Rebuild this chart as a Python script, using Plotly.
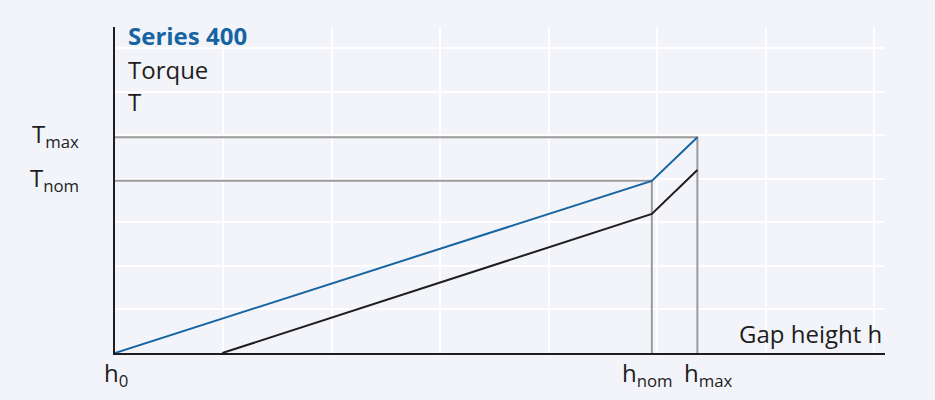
import plotly.graph_objects as go

# ---- data (in grid units) ----
h_labels = ["h<sub>0</sub>", "h<sub>nom</sub>", "h<sub>max</sub>"]
h_values = [0.0, 4.95, 5.37]
T_labels = ["T<sub>max</sub>", "T<sub>nom</sub>"]
T_values = [4.95, 3.95]

blue_x = [0.0, 4.95, 5.37]
blue_y = [0.0, 3.95, 4.95]
black_x = [0.99, 4.95, 5.37]
black_y = [0.0, 3.19, 4.20]

title_text = "Series 400"
ylabel_lines = ["Torque", "T"]
xlabel_text = "Gap height h"

BG = "#f2f4f9"
BLUE = "#1764a3"
DARK = "#1e1e1e"
GRAY = "#9b9b9b"
FONT = "Open Sans"
FS = 24

fig = go.Figure()

hnom, hmax = h_values[1], h_values[2]
tmax, tnom = T_values[0], T_values[1]
fig.add_trace(go.Scatter(x=[0, hmax, hmax], y=[tmax, tmax, 0], mode="lines",
                         line=dict(color=GRAY, width=2), hoverinfo="skip", showlegend=False))
fig.add_trace(go.Scatter(x=[0, hnom, hnom], y=[tnom, tnom, 0], mode="lines",
                         line=dict(color=GRAY, width=2), hoverinfo="skip", showlegend=False))
fig.add_trace(go.Scatter(x=black_x, y=black_y, mode="lines",
                         line=dict(color=DARK, width=2), showlegend=False))
fig.add_trace(go.Scatter(x=blue_x, y=blue_y, mode="lines",
                         line=dict(color=BLUE, width=2), showlegend=False))

XMAX = 7.10
YMAX = 7.48

fig.update_xaxes(range=[0, XMAX], dtick=1, tick0=0, showgrid=True, gridcolor="white",
                 gridwidth=2, zeroline=False, showline=True, linecolor=DARK, linewidth=2,
                 showticklabels=False, ticks="")
fig.update_yaxes(range=[0, YMAX], dtick=1, tick0=0, showgrid=True, gridcolor="white",
                 gridwidth=2, zeroline=False, showline=True, linecolor=DARK, linewidth=2,
                 showticklabels=False, ticks="")

# plot area in pixels: x 115..885, y 27..353
L, R, T, B = 115, 885, 27, 353
def px(xp):
    return (xp - L) / (R - L)
def py(yp):
    return (B - yp) / (B - T)

ann = []
def add(text, xp, yp, xanchor, yanchor, color=DARK):
    ann.append(dict(x=px(xp), y=py(yp), text=text, xanchor=xanchor, yanchor=yanchor,
                    xref="paper", yref="paper", showarrow=False,
                    font=dict(size=FS, color=color, family=FONT)))

add("<b>" + title_text + "</b>", 126, 36, "left", "middle", BLUE)
add(ylabel_lines[0], 126, 69, "left", "middle")
add(ylabel_lines[1], 126, 101, "left", "middle")
T_px = [B - v * (B - T) / YMAX for v in T_values]
for lab, yv in zip(T_labels, T_px):
    add(lab, 81, yv - 2, "right", "middle")
h_left_offsets = [-13, -32, -15]
for lab, v, o in zip(h_labels, h_values, h_left_offsets):
    xv = L + v * (R - L) / XMAX
    add(lab, xv + o, 354, "left", "top")
add(xlabel_text, 884, 333, "right", "middle")

fig.update_layout(
    width=935, height=400,
    margin=dict(l=L, r=935 - R, t=T, b=400 - B),
    paper_bgcolor=BG, plot_bgcolor=BG,
    annotations=ann,
    showlegend=False,
)

fig.write_html("out.html", config={"displayModeBar": False},
               post_script="document.body.style.margin='0';document.body.style.background='" + BG + "';")
